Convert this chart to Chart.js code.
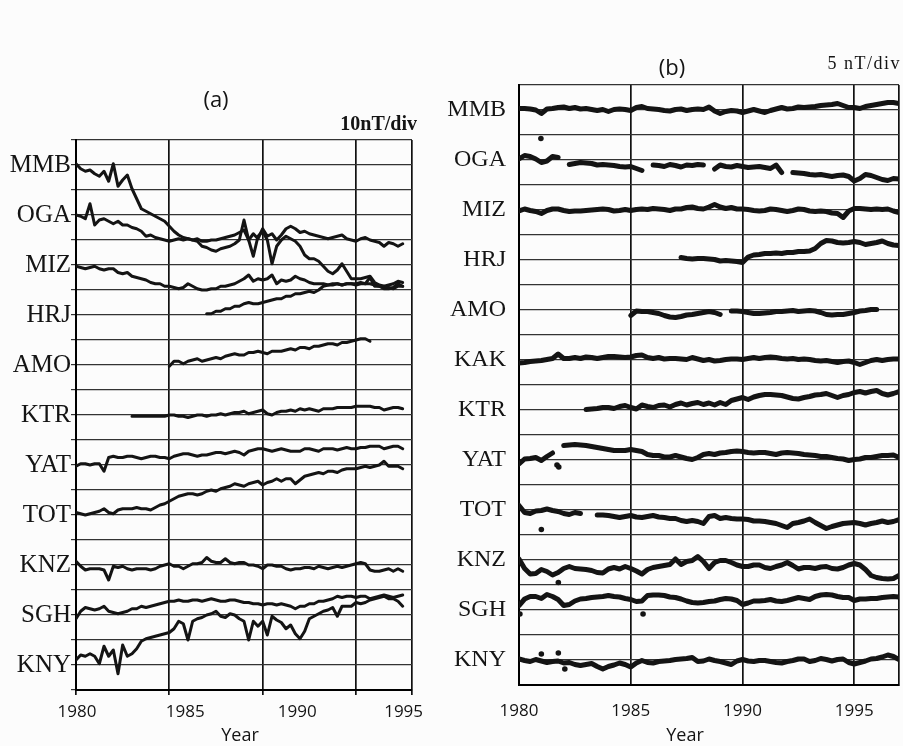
<!DOCTYPE html>
<html><head><meta charset="utf-8">
<script src="https://cdn.jsdelivr.net/npm/chart.js@4.4.1/dist/chart.umd.min.js"></script>
<style>
html,body{margin:0;padding:0;background:#fcfcfc;}
#wrap{position:relative;width:903px;height:746px;overflow:hidden;}
#ca{position:absolute;left:0;top:0;}
#cb{position:absolute;left:440px;top:0;}
</style></head>
<body><div id="wrap"><canvas id="ca" width="440" height="746"></canvas><canvas id="cb" width="463" height="746"></canvas></div>
<script>
// ---------- categories ----------
const stationsA = ['MMB','OGA','MIZ','HRJ','AMO','KTR','YAT','TOT','KNZ','SGH','KNY'];
const stationsB = ['MMB','OGA','MIZ','HRJ','AMO','KAK','KTR','YAT','TOT','KNZ','SGH','KNY'];
const yearsA = Array.from({length:71},(_,i)=>1980+i*0.25);   // quarterly sample times, panel (a)
const yearsB = Array.from({length:69},(_,i)=>1980+i*0.25);   // quarterly sample times, panel (b)
const gridYearsA = [1980,1985,1990,1995,1998];
const yearLabelsA = ['1980','1985','1990','1995'];
const labelPosA = [1980.05,1985.85,1991.85,1997.55];
const yearTicksB = [1980,1985,1990,1995];
const maxYearB = 1997.0;

// ---------- panel (a) values, nT relative to station baseline (10 nT/div) ----------
const mmbA = [0.5,-1.5,-2.5,-2,-3.5,-4.5,-2.5,-6.5,0.5,-8.5,
 -6,-4,-9.5,-13.5,-17.5,-18.5,-19.5,-20.5,-21.5,-22.5,
 -24.5,-26.5,-28,-29,-29.5,-30,-30.5,-32.5,-33,-34,
 -34.5,-33.5,-33,-32.5,-31.5,-30,-22,-30,-36.5,-28.5,
 -26.5,-30,-39.5,-32.5,-30,-28.5,-29.5,-30.5,-32.5,-36,
 -37.5,-37.5,-38.5,-40.5,-42.5,-43.5,-42,-39.5,-42.5,-45.5,
 -45.5,-45.5,-45,-44.5,-47,-48,-48.5,-49,-49.5,-48.5,-48.5];
const ogaA = [0,-0.5,-1.5,4.5,-4,-2,-1.5,-2.5,-3.5,-2.5,
 -4,-4,-5,-5.5,-6.5,-8.5,-8,-9,-9.5,-10,
 -10.5,-10,-9.5,-10,-9.5,-10,-9.5,-10.5,-10.5,-10,
 -10,-9.5,-9,-8.5,-8,-7,-6,-10,-7.5,-9.5,
 -5.5,-8.5,-7.5,-10,-8,-5.5,-4.5,-5.5,-7,-6.5,
 -7.5,-8,-8.5,-9,-9.5,-9,-8.5,-8,-9.5,-10,
 -10.5,-9.5,-9,-10,-10.5,-11,-12.5,-11,-11.5,-12.5,-11.5];
const mizA = [-0.5,-1,-1.5,-1,-0.5,-1.5,-2,-1.5,-1.5,-3,
 -3.5,-3,-4.5,-5,-5.5,-6,-7,-7.5,-7.5,-8.5,
 -8.5,-9,-9.5,-9,-7.5,-8.5,-9.5,-10,-10,-9.5,
 -9.5,-8.5,-8.5,-8,-7.5,-6.5,-5.5,-4,-6.5,-5.5,
 -6,-5.5,-4,-7.5,-6,-6.5,-6,-4.5,-5.5,-6,
 -7,-7.5,-7.5,-7.5,-8,-7.5,-7.5,-8,-7.5,-7.5,
 -7.5,-7,-7.5,-5,-8.5,-8.5,-9.5,-9.5,-9,-7.5,-8.5];
const hrjA = [null,null,null,null,null,null,null,null,null,null,
 null,null,null,null,null,null,null,null,null,null,
 null,null,null,null,null,null,null,null,0.5,0.5,
 1.5,1.5,2.5,2.5,3.5,3.5,4.5,5,4.5,4.5,
 5,5.5,6,6.5,6.5,7.5,7.5,8.5,8.5,9,
 9.5,9,10,11.5,12,12,12.5,12,12.5,12.5,
 12,12.5,12.5,12.5,12,11.5,11.5,12,12.5,13.5,13];
const amoA = [null,null,null,null,null,null,null,null,null,null,
 null,null,null,null,null,null,null,null,null,null,
 -0.5,1.5,1.5,0.5,1.5,2,2.5,1.5,2,2.5,
 3,2.5,3.5,4,4.5,4,4,5,5,5.5,
 5,4.5,5.5,5.5,5.5,6,6.5,6,7,7,
 6.5,7.5,7.5,8,8.5,8.5,8,9,9,9.5,
 10,10.5,10.5,9.5];
const ktrA = [null,null,null,null,null,null,null,null,null,null,
 null,null,-0.5,-0.5,-0.5,-0.5,-0.5,-0.5,-0.5,-0.5,
 0,0,-0.5,-0.5,-1,-0.5,0,0,-0.5,0,
 0,0.5,0,0.5,1,1,1.5,0.5,1,1.5,
 2,0.5,0,1,1.5,1.5,2,1.5,2.5,2,
 2.5,2,1.5,2.5,2.5,2.5,3,3,3,3,
 3.5,3.5,3.5,3.5,3,3,2,2.5,3,3,2.5];
const yatA = [-0.5,0.5,0.5,0,0.5,0.5,-2.5,3,3.5,3,
 3,3.5,3.5,3,2.5,3,3.5,3.5,3,3,
 2.5,3.5,4,4.5,4.5,4,3.5,4,4,4.5,
 5,5,4.5,5,5.5,5,4,5.5,6,6.5,
 6.5,6,5.5,6,6.5,6,5.5,5.5,5.5,6.5,
 6.5,6,5.5,6.5,6.5,6.5,6,6.5,7,6.5,
 6.5,7,7,7.5,7.5,7.5,6.5,7,7.5,7.5,6.5];
const totA = [1,0.5,0,0.5,1,1.5,2.5,1,0.5,2,
 2.5,2.5,2.5,3,2.5,2.5,2,3,4,4.5,
 5.5,6.5,7.5,8,8.5,8.5,8,8.5,9.5,10,
 9.5,10.5,11,11.5,12.5,12,11.5,12.5,13,13.5,
 12,13,13.5,14.5,13.5,14.5,14.5,12.5,14,15.5,
 16,16.5,17,16.5,17.5,17.5,17,18,18.5,18.5,
 18.5,19,19.5,19,19.5,20,21.5,19.5,19.5,19.5,18.5];
const knzA = [1.5,-0.5,-2,-1.5,-1.5,-1.5,-2,-6,-0.5,-1,
 -0.5,-1.5,-2,-1.5,-1.5,-1.5,-2,-1.5,-0.5,0,
 0.5,-0.5,-0.5,-1.5,-0.5,0.5,0.5,1,3,1.5,
 1,1,2.5,1,0.5,1,1,0,0,-0.5,
 -1.5,0,0,-0.5,-0.5,-1.5,-2,-1.5,-1.5,-1,
 -1,-1.5,-0.5,-1,-1.5,-1,-0.5,-1,-0.5,0,
 0.5,1,0.5,-2,-2.5,-2.5,-2,-1.5,-2.5,-1.5,-2.5];
const sghA = [-1.5,1.5,3,2.5,2,2.5,3.5,1.5,1,0.5,
 1,1.5,2.5,2.5,3.5,3,3.5,4,4.5,5,
 5.5,5.5,6,5.5,5.5,6,6,5.5,6,6.5,
 6,5.5,5.5,6,6,5.5,5,5,4.5,4.5,
 4,4.5,4.5,4,4.5,4,3.5,2.5,3.5,3.5,
 4.5,4.5,5.5,5.5,6,6.5,7.5,7,7.5,7.5,
 7,7.5,7.5,6.5,7,7.5,8,7.5,7,7.5,8];
const knyA = [2,4,3.5,4.5,3.5,0.5,7.5,3.5,6,-3.5,
 8,3.5,4.5,6.5,9.5,10.5,11,11.5,12,12.5,
 13,14.5,17.5,16.5,10,17.5,18.5,19,20,20.5,
 21.5,19.5,19,20.5,20,18.5,17.5,10,17.5,15.5,
 17.5,12,19.5,18,17,14.5,16,12.5,10.5,13.5,
 18.5,19.5,20.5,21.5,22,23,19.5,23.5,23.5,23.5,
 25,24.5,25,26,26.5,27,27.5,26.5,26.5,25.5,23.5];

// ---------- panel (b) values, nT relative to station baseline (5 nT/div) ----------
const mmbB = [0.3,0.3,0.2,0,-0.7,0.2,0.3,0.5,0.6,0.3,
 0.5,0.2,0.3,0.1,-0.1,0.1,-0.3,0.1,0.2,0.1,
 -0.1,0.5,0.7,0.3,0.2,0.1,-0.1,-0.2,0.1,0.2,
 -0.1,0.1,0.2,0.1,0.6,-0.2,-0.7,-0.3,-0.1,-0.2,
 -0.5,-0.2,0.1,-0.2,-0.5,-0.1,0.2,0.5,0.2,0.3,
 0.6,0.5,0.6,0.7,0.9,1,1.1,1.3,0.9,0.5,
 0.5,0.3,0.7,0.9,1.1,1.3,1.5,1.5,1.3];
const ogaB = [0.2,0.9,0.7,0.2,-0.5,-0.2,0.7,0.5,null,-0.9,
 -0.7,-0.5,-0.6,-0.7,-1,-0.9,-1,-1.1,-1.3,-1.4,
 -1.3,-1.7,-2.1,null,-1,-1.1,-1.3,-0.9,-1.1,-1.4,
 -1,-1.1,-0.9,-1,null,-1.8,-1,-1.3,-1.4,-1.1,
 -1.3,-1.5,-1.4,-1.3,-1.5,-1.7,-1,-2.5,null,-2.5,
 -2.6,-2.7,-2.9,-3,-2.9,-3.1,-3.3,-3.1,-3,-3.3,
 -4.2,-3.7,-2.9,-3.1,-3.5,-3.9,-4.1,-3.7,-3.8];
const mizB = [-0.2,0.2,-0.1,-0.3,-0.7,-0.1,0.2,0.2,-0.1,-0.3,
 -0.2,-0.2,-0.1,0,0.1,0.2,0.1,-0.2,-0.1,0.1,
 -0.1,0.1,0.2,0.1,0.3,0.2,0.1,-0.1,0.2,0.2,
 0.5,0.6,0.3,0.2,0.6,1.1,0.6,0.3,0.5,0.2,
 0.2,0.1,-0.1,-0.2,-0.1,0.2,0.1,-0.1,-0.3,-0.1,
 0.2,0.1,-0.2,-0.3,-0.2,-0.3,-0.6,-0.7,-1.5,-0.2,
 0.3,0.3,0.2,0.1,0.2,0.1,0.2,-0.2,-0.5];
const hrjB = [null,null,null,null,null,null,null,null,null,null,
 null,null,null,null,null,null,null,null,null,null,
 null,null,null,null,null,null,null,null,null,0.5,
 0.3,0.2,0.3,0.3,0.2,0.1,-0.2,-0.1,-0.2,-0.3,
 -0.5,0.6,1,1.1,1.3,1.3,1.4,1.3,1.5,1.5,
 1.7,1.7,1.8,2.3,3.3,3.9,3.8,3.5,3.4,3.5,
 3.7,3.5,3.1,3.3,3.5,3.8,3.3,3,2.9];
const amoB = [null,null,null,null,null,null,null,null,null,null,
 null,null,null,null,null,null,null,null,null,null,
 -1.1,-0.2,-0.3,-0.3,-0.5,-0.7,-1.1,-1.4,-1.5,-1.3,
 -1,-0.9,-0.7,-0.5,-0.3,-0.5,-0.9,null,-0.2,-0.2,
 -0.3,-0.5,-0.7,-0.7,-0.6,-0.5,-0.3,-0.3,-0.2,-0.1,
 -0.3,-0.2,-0.1,-0.2,-0.5,-0.9,-1,-0.9,-0.9,-0.7,
 -0.5,-0.2,-0.1,0.1,0.1];
const kakB = [-0.6,-0.5,-0.3,-0.2,-0.1,0.1,0.3,1.2,0.3,0.3,
 0.5,0.3,0.6,0.5,0.3,0.5,0.7,0.7,0.6,0.5,
 0.6,0.9,1,0.5,0.3,0.5,0.2,0.3,0.3,0.2,
 0.1,0.5,0.2,-0.1,0.1,-0.2,-0.1,0.1,0.2,0.2,
 0.1,0.3,0.5,0.3,0.5,0.6,0.5,0.3,0.2,0.3,
 0.1,0.2,0.1,-0.1,-0.2,-0.1,-0.3,-0.5,-0.3,-0.2,
 -0.5,-0.9,-0.5,-0.1,0.1,-0.1,0.1,0.2,0.2];
const ktrB = [null,null,null,null,null,null,null,null,null,null,
 null,null,0.1,0.2,0.3,0.5,0.5,0.3,0.7,0.9,
 0.5,0.2,1,0.7,0.5,0.9,1,0.6,1.1,1.4,
 1,1.3,1.5,1.1,1.4,1,1.5,1.1,1.9,2.2,
 2.5,2.1,2.6,2.9,3.1,3.1,3,2.9,2.6,2.3,
 2.2,2.5,2.7,3,3.1,3.3,2.9,2.5,2.9,3.1,
 3.5,3.7,3.4,3.7,3.9,3.3,3,3.3,3.7];
const yatB = [-0.8,0.2,0.3,0.5,-0.1,0.7,1.4,null,2.9,3,
 3.1,3,2.9,2.7,2.5,2.3,2.1,1.9,1.9,1.9,
 2.1,1.9,1.7,1.1,0.9,0.9,0.6,0.6,0.9,0.6,
 0.3,0.1,0.5,1.1,1.3,1.1,1.4,1.5,1.7,1.8,
 1.7,1.5,1.4,1.5,1.5,1.3,1.1,1.4,1.5,1.4,
 1.3,1.1,1,0.9,0.7,0.7,0.5,0.3,0.2,-0.1,
 0.1,0.2,0.5,0.5,0.7,0.9,0.9,1,0.5];
const totB = [0.9,-0.5,-0.7,-0.2,-0.1,0.2,-0.1,-0.3,-0.7,-0.9,
 -0.5,-0.7,null,null,-1,-1,-1.1,-1.3,-1.5,-1.3,
 -1.1,-1.4,-1.5,-1.3,-1.1,-1.4,-1.5,-1.7,-1.7,-2.1,
 -2.3,-2.1,-2.3,-2.7,-1.3,-1.1,-1.7,-1.5,-1.7,-1.8,
 -1.8,-1.9,-2.2,-2.2,-2.3,-2.5,-2.7,-3.1,-3.5,-2.7,
 -2.5,-2.2,-1.8,-2.5,-3.1,-3.7,-3.3,-3,-2.7,-2.6,
 -2.5,-2.7,-3,-2.7,-2.5,-2.2,-2.5,-2.3,-1.9];
const knzB = [0.2,-1.7,-2.8,-2.7,-1.9,-2.3,-3,-2.5,-1.7,-1.3,
 -1.7,-1.8,-1.9,-2.1,-2.5,-2.6,-1.8,-1.5,-1.8,-1.3,
 -1.7,-2.2,-2.8,-1.9,-1.5,-1.3,-1.1,-0.9,0.2,-0.9,
 -0.3,-0.1,0.7,-0.3,-1.7,-0.5,-0.1,-0.1,-0.5,-1,
 -1.3,-1.3,-1,-1,-1.5,-1.7,-1.3,-1,-0.5,-1.1,
 -1.8,-1.5,-1.5,-1.7,-1.4,-1.3,-1.7,-1.8,-1.5,-1,
 -0.7,-1,-1.9,-3.1,-3.5,-3.7,-3.8,-3.7,-3.1];
const sghB = [0.9,2.2,2.7,2.7,2.3,3.1,2.7,2.1,0.9,1.1,
 1.8,2.2,2.3,2.5,2.6,2.7,2.9,2.7,2.6,2.3,
 2.1,1.7,1.8,2.9,3,3,2.9,2.6,2.5,2.2,
 1.8,1.5,1.4,1.5,1.7,1.8,2.1,2.3,2.2,1.9,
 1.1,1.4,1.8,1.8,1.9,2.1,1.8,1.7,1.9,2.2,
 2.5,2.3,2.1,2.7,3,3.1,3,2.7,2.5,2.5,
 1.9,2.2,2.2,2.3,2.3,2.5,2.6,2.7,2.6];
const knyB = [0.2,-0.1,-0.3,0.1,-0.2,-0.5,-0.3,-0.2,-0.6,-0.5,
 -0.9,-1.1,-0.9,-0.7,-1.3,-1.8,-1.3,-1,-0.6,-0.9,
 -1.4,-0.6,-0.1,-0.5,-0.6,-0.3,-0.2,-0.1,0.1,0.2,
 0.3,0.5,-0.3,-0.2,0.2,-0.1,-0.3,-0.6,-0.9,-0.2,
 0.1,-0.2,-0.3,-0.1,-0.1,-0.3,-0.5,-0.6,-0.3,-0.1,
 0.2,0.2,-0.3,-0.1,0.3,0.1,-0.2,0.1,0.2,-0.5,
 -0.8,-0.5,-0.2,0.2,0.3,0.6,1,0.7,0.1];
// isolated points in panel (b)
const outStationB = ['OGA','YAT','YAT','TOT','KNZ','SGH','SGH','KNY','KNY','KNY'];
const outYearB    = [1980.98,1981.7,1981.78,1981.0,1981.76,1980.04,1985.55,1981.0,1981.76,1982.05];
const outValueB   = [4.3,-1.0,-1.4,-3.9,-4.5,-0.8,-0.8,1.2,1.4,-1.8];

const seriesA = [mmbA,ogaA,mizA,hrjA,amoA,ktrA,yatA,totA,knzA,sghA,knyA];
const seriesB = [mmbB,ogaB,mizB,hrjB,amoB,kakB,ktrB,yatB,totB,knzB,sghB,knyB];

// ---------- build ----------
const INK = '#141414';
const topDivA = 21, nTperDivA = 10, topDivB = 23, nTperDivB = 5;

const dsA = stationsA.map((s,k)=>({
  label:s,
  data: seriesA[k].map((v,i)=>({x:yearsA[i], y: v==null?null:(topDivA-2*k)+v/nTperDivA})),
  borderColor:INK, borderWidth:3, pointRadius:0, tension:0, spanGaps:false,
  borderJoinStyle:'round', borderCapStyle:'round', xAxisID:'x', yAxisID:'y'
}));
const dsB = stationsB.map((s,k)=>({
  label:s,
  data: seriesB[k].map((v,i)=>({x:yearsB[i], y: v==null?null:(topDivB-2*k)+v/nTperDivB})),
  borderColor:INK, borderWidth:5, pointRadius:0, tension:0, spanGaps:false,
  borderJoinStyle:'round', borderCapStyle:'round'
}));
dsB.push({
  label:'isolated',
  data: outYearB.map((yr,i)=>({x:yr, y:(topDivB-2*stationsB.indexOf(outStationB[i]))+outValueB[i]/nTperDivB})),
  showLine:false, pointRadius:2.8, pointBackgroundColor:INK, pointBorderWidth:0, borderColor:INK
});

function textPlugin(items){
  return {id:'txt', afterDraw(chart){
    const c = chart.ctx;
    items.forEach(t=>{
      c.save(); c.font=t.font; c.fillStyle=INK; c.textAlign=t.align; c.textBaseline='alphabetic';
      if (t.ls) c.letterSpacing = t.ls;
      c.fillText(t.text,t.x,t.y); c.restore();
    });
  }};
}
const SANS = "'Open Sans', 'DejaVu Sans', sans-serif";
const SERIF = "'Liberation Serif', 'DejaVu Serif', serif";

new Chart(document.getElementById('ca'), {
  type:'line',
  data:{datasets:dsA},
  options:{
    responsive:false, animation:false, devicePixelRatio:1,
    layout:{padding:{left:0,right:28,top:140,bottom:0}},
    plugins:{legend:{display:false}, tooltip:{enabled:false}},
    scales:{
      x:{type:'linear', position:'bottom', min:1980, max:1998, weight:0,
        afterBuildTicks:s=>{ s.ticks = gridYearsA.map(v=>({value:v})); },
        afterFit:s=>{ s.height = 0; s.paddingLeft = 0; s.paddingRight = 0; },
        ticks:{display:false},
        grid:{color:'#111', lineWidth:1.7, drawTicks:true, tickLength:5},
        border:{display:true, color:'#000', width:2}},
      xl:{type:'linear', position:'bottom', min:1980, max:1998, weight:1,
        afterBuildTicks:s=>{ s.ticks = labelPosA.map(v=>({value:v})); },
        afterFit:s=>{ s.height = 56; s.paddingLeft = 0; s.paddingRight = 0; },
        grid:{display:false, drawTicks:false}, border:{display:false},
        ticks:{autoSkip:false, maxRotation:0, padding:12, color:INK,
          font:{family:SANS, size:17}, callback:(v,i)=>yearLabelsA[i]}},
      y:{type:'linear', position:'left', min:0, max:22,
        afterBuildTicks:s=>{ s.ticks = Array.from({length:23},(_,i)=>({value:i})); },
        afterFit:s=>{ s.width = 76; },
        grid:{color:'#333', lineWidth:1.2, drawTicks:true, tickLength:5},
        border:{display:true, color:'#000', width:2},
        ticks:{autoSkip:false, padding:0, color:INK, font:{family:SERIF, size:25},
          callback:v=> (v%2===1 ? stationsA[(topDivA-v)/2] : '')}}
    }
  },
  plugins:[textPlugin([
    {text:'(a)', x:216, y:107, align:'center', font:"22px "+SANS},
    {text:'10nT/div', x:417, y:130, align:'right', font:"bold 20px "+SERIF},
    {text:'Year', x:240, y:741, align:'center', font:"18px "+SANS}
  ])]
});

new Chart(document.getElementById('cb'), {
  type:'line',
  data:{datasets:dsB},
  options:{
    responsive:false, animation:false, devicePixelRatio:1,
    layout:{padding:{left:0,right:4,top:85,bottom:0}},
    plugins:{legend:{display:false}, tooltip:{enabled:false}},
    scales:{
      x:{type:'linear', position:'bottom', min:1980, max:maxYearB,
        afterBuildTicks:s=>{ s.ticks = yearTicksB.concat([maxYearB]).map(v=>({value:v})); },
        afterFit:s=>{ s.height = 61; s.paddingLeft = 0; s.paddingRight = 0; },
        grid:{color:'#111', lineWidth:1.7, drawTicks:false},
        border:{display:true, color:'#000', width:2},
        ticks:{autoSkip:false, maxRotation:0, padding:16, color:INK, font:{family:SANS, size:17},
          callback:(v,i)=> (i<yearTicksB.length ? String(yearTicksB[i]) : '')}},
      y:{type:'linear', position:'left', min:0, max:24,
        afterBuildTicks:s=>{ s.ticks = Array.from({length:25},(_,i)=>({value:i})); },
        afterFit:s=>{ s.width = 79; },
        grid:{color:'#333', lineWidth:1.2, drawTicks:false},
        border:{display:true, color:'#000', width:2},
        ticks:{autoSkip:false, padding:13, color:INK, font:{family:SERIF, size:24},
          callback:v=> (v%2===1 ? stationsB[(topDivB-v)/2] : '')}}
    }
  },
  plugins:[textPlugin([
    {text:'(b)', x:232, y:75, align:'center', font:"22px "+SANS},
    {text:'5 nT/div', x:461, y:69, align:'right', font:"18px "+SERIF, ls:'1.5px'},
    {text:'Year', x:245, y:741, align:'center', font:"18px "+SANS}
  ])]
});
</script>
</body></html>
